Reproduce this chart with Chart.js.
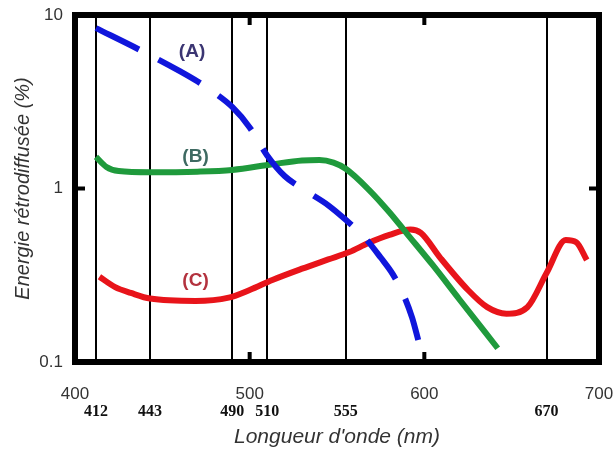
<!doctype html>
<html lang="fr">
<head>
<meta charset="utf-8">
<style>
    html, body { margin: 0; padding: 0; background: #fff; }
</style>
</head>
<body>
    <canvas id="myChart" width="616" height="450"></canvas>

    <script src="https://cdn.jsdelivr.net/npm/chart.js"></script>

    <script>
    // wavelengths of the sensor bands (vertical lines)
    const bandLines = [412, 443, 490, 510, 555, 670];
    const mainTicks = [400, 500, 600, 700];
    const yTicks = [0.1, 1, 10];

    // curve (A) - dashed blue
    const waveA = [412, 437, 460, 470, 480, 490, 500, 510, 520, 530, 545, 555, 566, 575, 582, 588, 593, 596.5];
    const energyA = [8.4, 6.3, 4.75, 4.15, 3.55, 2.95, 2.25, 1.55, 1.18, 1.0, 0.8, 0.66, 0.52, 0.4, 0.32, 0.245, 0.18, 0.134];

    // curve (B) - green
    const waveB = [412, 418, 425, 443, 470, 490, 513, 530, 540, 548, 555, 568, 580, 590, 605, 620, 642];
    const energyB = [1.52, 1.33, 1.26, 1.24, 1.25, 1.28, 1.38, 1.45, 1.46, 1.41, 1.3, 0.99, 0.73, 0.55, 0.36, 0.23, 0.12];

    // curve (C) - red
    const waveC = [414, 423, 432, 443, 469, 488, 500, 513, 530, 545, 557, 568, 580, 592, 598, 609, 625, 636, 647, 659, 670, 681, 687, 693];
    const energyC = [0.31, 0.27, 0.25, 0.232, 0.225, 0.235, 0.26, 0.297, 0.345, 0.39, 0.43, 0.485, 0.54, 0.58, 0.555, 0.40, 0.26, 0.207, 0.19, 0.207, 0.326, 0.505, 0.49, 0.387];

    // curve labels
    const curveLabels = ['(A)', '(B)', '(C)'];
    const labelWave = [467, 469, 469];
    const labelEnergy = [6.1, 1.52, 0.293];
    const labelColors = ['#3b3572', '#3e6a62', '#b3323e'];

    const toPoints = (xs, ys) => xs.map((x, i) => ({ x: x, y: ys[i] }));

    // keep the plot box where the original has it
    const fixHorizontal = h => scale => {
        scale.height = h;
        scale.paddingLeft = 0;
        scale.paddingRight = 17;
    };

    // frame + inward ticks + curve labels
    const framePlugin = {
        id: 'frame',
        afterDraw(chart) {
            const c = chart.ctx;
            const a = chart.chartArea;
            const xs = chart.scales.x;
            const ys = chart.scales.y;
            c.save();
            c.strokeStyle = '#000';
            c.lineWidth = 6;
            c.strokeRect(a.left, a.top, a.right - a.left, a.bottom - a.top);

            c.lineWidth = 4;
            c.beginPath();
            [500, 600].forEach(v => {
                const px = xs.getPixelForValue(v);
                c.moveTo(px, a.top); c.lineTo(px, a.top + 10);
                c.moveTo(px, a.bottom); c.lineTo(px, a.bottom - 10);
            });
            const py = ys.getPixelForValue(1);
            c.moveTo(a.left, py); c.lineTo(a.left + 10, py);
            c.moveTo(a.right, py); c.lineTo(a.right - 10, py);
            c.stroke();

            c.font = 'bold 19px "Liberation Sans", Arial, sans-serif';
            c.textAlign = 'center';
            c.textBaseline = 'middle';
            curveLabels.forEach((t, i) => {
                c.fillStyle = labelColors[i];
                c.fillText(t, xs.getPixelForValue(labelWave[i]), ys.getPixelForValue(labelEnergy[i]));
            });
            c.restore();
        }
    };

    const ctx = document.getElementById('myChart').getContext('2d');

    new Chart(ctx, {
        type: 'line',
        data: {
            datasets: [{
                label: '(A)',
                data: toPoints(waveA, energyA),
                borderColor: '#1016dc',
                borderWidth: 6,
                borderDash: [48, 22],
                borderCapStyle: 'butt',
                cubicInterpolationMode: 'monotone',
                pointRadius: 0,
                fill: false
            }, {
                label: '(B)',
                data: toPoints(waveB, energyB),
                borderColor: '#1f9a3c',
                borderWidth: 6,
                cubicInterpolationMode: 'monotone',
                pointRadius: 0,
                fill: false
            }, {
                label: '(C)',
                data: toPoints(waveC, energyC),
                borderColor: '#e8141a',
                borderWidth: 6,
                cubicInterpolationMode: 'monotone',
                pointRadius: 0,
                fill: false
            }]
        },
        options: {
            responsive: false,
            animation: false,
            layout: {
                padding: 0
            },
            plugins: {
                legend: { display: false },
                tooltip: { enabled: false }
            },
            scales: {
                x: {
                    type: 'linear',
                    position: 'bottom',
                    weight: 0,
                    min: 400,
                    max: 700,
                    afterBuildTicks: scale => { scale.ticks = mainTicks.map(v => ({ value: v })); },
                    afterFit: fixHorizontal(40),
                    grid: { display: false, drawTicks: false },
                    border: { display: false },
                    ticks: {
                        padding: 22,
                        maxRotation: 0,
                        color: '#333',
                        font: { family: '"Liberation Sans", Arial, sans-serif', size: 17 }
                    }
                },
                x2: {
                    type: 'linear',
                    position: 'bottom',
                    weight: 1,
                    min: 400,
                    max: 700,
                    afterBuildTicks: scale => { scale.ticks = bandLines.map(v => ({ value: v })); },
                    afterFit: fixHorizontal(48),
                    grid: { display: true, drawOnChartArea: true, drawTicks: false, color: '#000', lineWidth: 2 },
                    border: { display: false },
                    ticks: {
                        padding: 0,
                        maxRotation: 0,
                        color: '#111',
                        font: { family: '"Liberation Serif", "Times New Roman", serif', size: 16, weight: 'bold' }
                    },
                    title: {
                        display: true,
                        text: "Longueur d'onde (nm)",
                        color: '#333',
                        padding: { top: 0, bottom: 0 },
                        font: { family: '"Liberation Sans", Arial, sans-serif', size: 21, style: 'italic' }
                    }
                },
                y: {
                    type: 'logarithmic',
                    min: 0.1,
                    max: 10,
                    afterBuildTicks: scale => { scale.ticks = yTicks.map(v => ({ value: v })); },
                    afterFit: scale => {
                        scale.width = 75;
                        scale.paddingTop = 15;
                        scale.paddingBottom = 0;
                    },
                    grid: { display: false, drawTicks: false },
                    border: { display: false },
                    ticks: {
                        padding: 12,
                        color: '#333',
                        font: { family: '"Liberation Sans", Arial, sans-serif', size: 17 },
                        callback: v => String(v)
                    },
                    title: {
                        display: true,
                        text: 'Energie rétrodiffusée (%)',
                        color: '#333',
                        padding: { top: 11, bottom: 0 },
                        font: { family: '"Liberation Sans", Arial, sans-serif', size: 20, style: 'italic' }
                    }
                }
            }
        },
        plugins: [framePlugin]
    });
    </script>
</body>
</html>
